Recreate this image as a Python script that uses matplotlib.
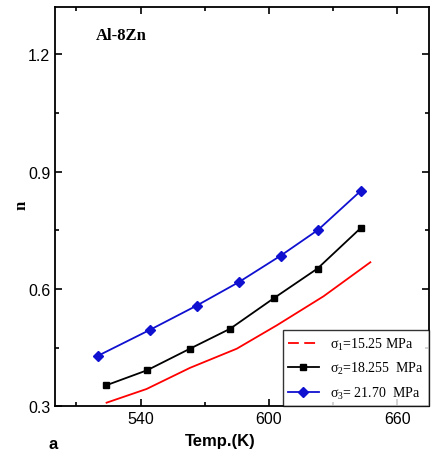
import matplotlib
matplotlib.use("Agg")
import matplotlib.pyplot as plt
from matplotlib.lines import Line2D
from matplotlib.ticker import MultipleLocator

t1 = [524.1, 542.8, 563.1, 585.0, 603.8, 625.6, 647.5]
n1 = [0.309, 0.344, 0.398, 0.447, 0.507, 0.581, 0.668]
t2 = [523.7, 543.1, 563.1, 581.9, 602.6, 622.8, 643.1]
n2 = [0.353, 0.392, 0.447, 0.498, 0.577, 0.652, 0.756]
t3 = [520.1, 544.3, 566.2, 585.9, 605.6, 623.1, 643.1]
n3 = [0.429, 0.495, 0.557, 0.617, 0.685, 0.751, 0.851]
labels = [r"$\sigma_1$=15.25 MPa", r"$\sigma_2$=18.255  MPa", r"$\sigma_3$= 21.70  MPa"]

plt.rcParams['mathtext.fontset'] = 'custom'
plt.rcParams['mathtext.rm'] = 'Liberation Serif'
plt.rcParams['mathtext.it'] = 'Liberation Serif'

fig = plt.figure(figsize=(4.37, 4.56), dpi=100)
ax = fig.add_axes([0.126, 0.107, 0.856, 0.875])
ax.plot(t1, n1, color='red', lw=1.3)
ax.plot(t2, n2, color='black', lw=1.3, marker='s', ms=5)
ax.plot(t3, n3, color='#1010d0', lw=1.3, marker='D', ms=5)
ax.set_xlim(500, 675)
ax.set_ylim(0.3, 1.32)
ax.xaxis.set_major_locator(MultipleLocator(60))
ax.xaxis.set_minor_locator(MultipleLocator(30))
ax.yaxis.set_major_locator(MultipleLocator(0.3))
ax.yaxis.set_minor_locator(MultipleLocator(0.15))
ax.tick_params(which='both', direction='in', top=True, right=True, labelsize=11.5, width=1.2)
ax.tick_params(which='major', length=5)
ax.tick_params(which='minor', length=3)
for lab in ax.get_xticklabels() + ax.get_yticklabels():
    lab.set_family('Liberation Sans')
for s in ax.spines.values():
    s.set_linewidth(1.3)
ax.set_xticks([540, 600, 660])
ax.set_xticklabels(['540', '600', '660'], family='Liberation Sans')
ax.set_yticks([0.3, 0.6, 0.9, 1.2])
ax.set_yticklabels(['0.3', '0.6', '0.9', '1.2'], family='Liberation Sans')
fig.text(0.505, 0.022, "Temp.(K)", family='Liberation Sans', weight='bold', fontsize=12, ha='center')
fig.text(0.11, 0.015, "a", family='Liberation Sans', weight='bold', fontsize=12)
fig.text(0.03, 0.55, "n", family='Liberation Serif', weight='bold', fontsize=12, rotation=90, va='center')
ax.text(0.11, 0.92, "Al-8Zn", transform=ax.transAxes, family='Liberation Serif', weight='bold', fontsize=12)

handles = [Line2D([], [], color='red', ls=(0, (6, 3)), lw=1.3),
           Line2D([], [], color='black', lw=1.3, marker='s', ms=5),
           Line2D([], [], color='#1010d0', lw=1.3, marker='D', ms=5)]
leg = ax.legend(handles, labels, loc='lower right', prop={'family': 'Liberation Serif', 'size': 10},
                frameon=True, fancybox=False, edgecolor='black', borderaxespad=0.0, handlelength=2.2,
                labelspacing=0.6)
leg.get_frame().set_linewidth(1.0)
fig.savefig("out.png", dpi=100)
